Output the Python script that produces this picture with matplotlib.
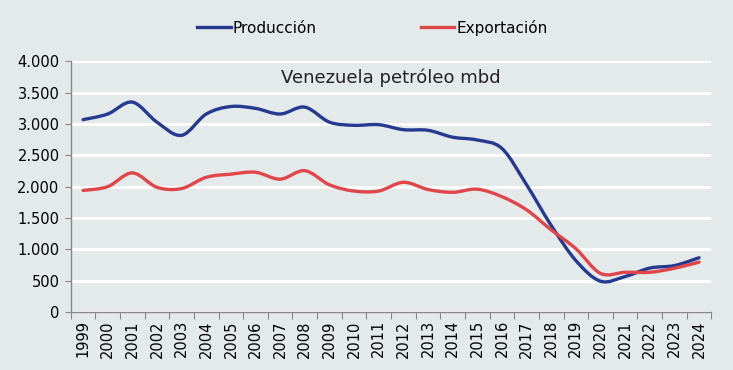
import matplotlib
matplotlib.use("Agg")
import matplotlib.pyplot as plt
from matplotlib.path import Path
from matplotlib.patches import PathPatch
from matplotlib.lines import Line2D
import numpy as np

years = [str(y) for y in range(1999, 2025)]
produccion = [3070, 3160, 3350, 3030, 2820, 3160, 3280, 3250, 3160, 3270, 3030, 2980,
              2990, 2910, 2900, 2790, 2745, 2610, 2030, 1380, 820, 490, 565, 700, 740, 865]
exportacion = [1940, 2000, 2220, 1990, 1970, 2150, 2200, 2230, 2120, 2255, 2030, 1930,
               1930, 2070, 1955, 1910, 1960, 1840, 1630, 1310, 1010, 615, 633, 633, 697, 795]
yticks = [0, 500, 1000, 1500, 2000, 2500, 3000, 3500, 4000]
ytick_labels = ["0", "500", "1.000", "1.500", "2.000", "2.500", "3.000", "3.500", "4.000"]

BG = "#e4eaea"
BLUE = "#24398f"
RED = "#e0454a"

fig = plt.figure(figsize=(7.33, 3.70), dpi=100, facecolor=BG)
ax = fig.add_axes([0.0965, 0.157, 0.874, 0.677], facecolor=BG)


def smooth_path(xs, ys, t=1/6):
    xs = np.asarray(xs, float); ys = np.asarray(ys, float)
    n = len(xs)
    verts = [(xs[0], ys[0])]
    codes = [Path.MOVETO]
    for i in range(n - 1):
        p0 = (xs[max(i - 1, 0)], ys[max(i - 1, 0)])
        p1 = (xs[i], ys[i])
        p2 = (xs[i + 1], ys[i + 1])
        p3 = (xs[min(i + 2, n - 1)], ys[min(i + 2, n - 1)])
        c1 = (p1[0] + (p2[0] - p0[0]) * t, p1[1] + (p2[1] - p0[1]) * t)
        c2 = (p2[0] - (p3[0] - p1[0]) * t, p2[1] - (p3[1] - p1[1]) * t)
        verts += [c1, c2, p2]
        codes += [Path.CURVE4] * 3
    return Path(verts, codes)


x = np.arange(len(years))
for vals, col in [(produccion, BLUE), (exportacion, RED)]:
    ax.add_patch(PathPatch(smooth_path(x, vals), facecolor="none", edgecolor=col,
                           lw=2.4, capstyle="round", joinstyle="round", zorder=3))

ax.set_xlim(-0.5, len(years) - 0.5)
ax.set_ylim(0, 4000)
ax.set_yticks(yticks)
ax.set_yticklabels(ytick_labels)
ax.yaxis.grid(True, color="white", lw=2.2)
ax.set_axisbelow(True)

ax.set_xticks(np.arange(-0.5, len(years), 1.0))
ax.set_xticklabels([])
ax.set_xticks(x, minor=True)
ax.set_xticklabels(years, minor=True, rotation=90)
ax.tick_params(axis="x", which="major", length=5, color="#888888", direction="out")
ax.tick_params(axis="x", which="minor", length=0, pad=6, labelsize=10.5)
ax.tick_params(axis="y", length=4, color="#888888", labelsize=10.5, pad=4)

for s in ["top", "right"]:
    ax.spines[s].set_visible(False)
for s in ["left", "bottom"]:
    ax.spines[s].set_color("#888888")
    ax.spines[s].set_linewidth(1.0)

ax.text(0.5, 0.935, "Venezuela petróleo mbd", transform=ax.transAxes, ha="center",
        va="center", fontsize=13, color="#222222")

handles = [Line2D([], [], color=BLUE, lw=2.4), Line2D([], [], color=RED, lw=2.4)]
fig.legend(handles, ["Producción", "Exportación"], loc="center", bbox_to_anchor=(0.508, 0.925),
           ncol=2, frameon=False, fontsize=11, handlelength=2.2, handletextpad=0.15,
           columnspacing=6.8)

fig.savefig("out.png", dpi=100, facecolor=BG)
